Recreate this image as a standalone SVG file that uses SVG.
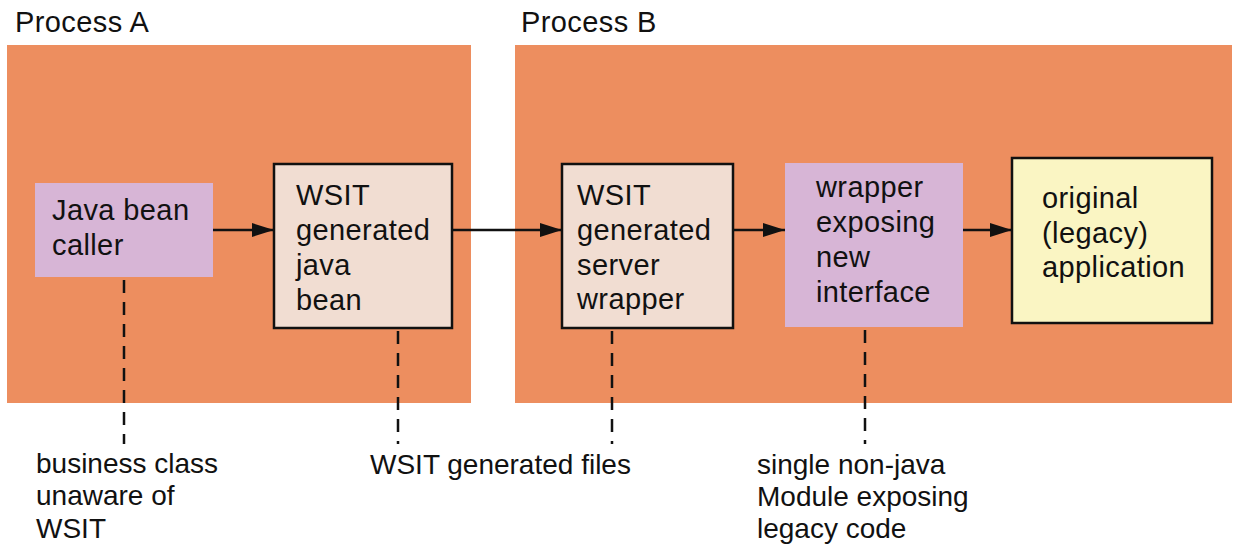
<svg xmlns="http://www.w3.org/2000/svg" width="1239" height="548" viewBox="0 0 1239 548">
<style>
text{font-family:"Liberation Sans",Arial,sans-serif;font-size:29px;letter-spacing:0.4px;fill:#111}
text.lbl{font-size:28px;letter-spacing:0}
.panel{fill:#ED8E5F}
.purple{fill:#D7B5D6}
.beige{fill:#F1DDD2;stroke:#111;stroke-width:2.5}
.yellow{fill:#FAF5C3;stroke:#111;stroke-width:2.5}
.arrow{stroke:#111;stroke-width:2.5;fill:none;marker-end:url(#ah)}
.dash{stroke:#111;stroke-width:2.5;fill:none;stroke-dasharray:13 9}
</style>
<defs>
<marker id="ah" markerWidth="22" markerHeight="14" refX="22" refY="7" orient="auto" markerUnits="userSpaceOnUse">
<path d="M0,0 L22,7 L0,14 Z" fill="#111"/>
</marker>
</defs>
<rect width="1239" height="548" fill="#fff"/>
<g id="processA">
<rect class="panel" x="7" y="45" width="464" height="358"/>
<text x="15" y="32">Process A</text>
</g>
<g id="processB">
<rect class="panel" x="515" y="45" width="717" height="358"/>
<text x="521" y="32">Process B</text>
</g>
<g id="caller">
<rect class="purple" x="35" y="183" width="178" height="94"/>
<text x="52" y="220">Java bean</text>
<text x="52" y="255">caller</text>
</g>
<g id="javabean">
<rect class="beige" x="274" y="164" width="178" height="164"/>
<text x="296" y="205">WSIT</text>
<text x="296" y="240">generated</text>
<text x="296" y="275">java</text>
<text x="296" y="310">bean</text>
</g>
<g id="serverwrapper">
<rect class="beige" x="562" y="164" width="171" height="164"/>
<text x="577" y="205">WSIT</text>
<text x="577" y="240">generated</text>
<text x="577" y="275">server</text>
<text x="577" y="309">wrapper</text>
</g>
<g id="newinterface">
<rect class="purple" x="785" y="163" width="178" height="164"/>
<text x="816" y="197">wrapper</text>
<text x="816" y="232">exposing</text>
<text x="816" y="267">new</text>
<text x="816" y="302">interface</text>
</g>
<g id="legacy">
<rect class="yellow" x="1012" y="158" width="200" height="165"/>
<text x="1042" y="208">original</text>
<text x="1042" y="243">(legacy)</text>
<text x="1042" y="277">application</text>
</g>
<g id="connectors">
<line class="arrow" x1="213" y1="230" x2="274" y2="230"/>
<line class="arrow" x1="452" y1="230" x2="562" y2="230"/>
<line class="arrow" x1="733" y1="230" x2="785" y2="230"/>
<line class="arrow" x1="963" y1="230" x2="1012" y2="230"/>
<line class="dash" x1="124" y1="280" x2="124" y2="444"/>
<line class="dash" x1="398" y1="331" x2="398" y2="444"/>
<line class="dash" x1="612" y1="331" x2="612" y2="444"/>
<line class="dash" x1="865" y1="330" x2="865" y2="444"/>
</g>
<g id="labels">
<text class="lbl" x="36" y="473">business class</text>
<text class="lbl" x="36" y="505">unaware of</text>
<text class="lbl" x="36" y="538">WSIT</text>
<text class="lbl" x="370" y="474">WSIT generated files</text>
<text class="lbl" x="757" y="474">single non-java</text>
<text class="lbl" x="757" y="506">Module exposing</text>
<text class="lbl" x="757" y="538">legacy code</text>
</g>
</svg>
